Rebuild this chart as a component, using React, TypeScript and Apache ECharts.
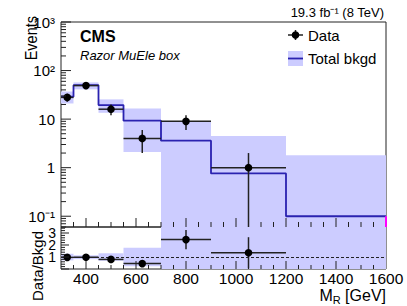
import React, { useEffect, useRef } from "react";
import * as echarts from "echarts";

// ---- data ----
const binEdges = [300, 350, 450, 550, 700, 900, 1200, 1600];
const dataCounts = [28, 49, 16, 4, 9, 1, 0];
const dataErrors = [5.3, 7, 4, 2, 3, 1, 0];
const bkgdTotal = [29, 50, 19.5, 9.3, 3.6, 0.76, 0.1];
const bkgdBandLow = [21, 41, 13.5, 2.1, 0.01, 0.01, 0.01];
const bkgdBandHigh = [37, 57, 25.5, 16.6, 9, 4.5, 1.8];
const ratioValues = [0.97, 0.98, 0.8, 0.45, 2.45, 1.35, 0];
const ratioErrors = [0.18, 0.14, 0.2, 0.22, 0.8, 1.3, 0];
const ratioBandLow = [0.72, 0.82, 0.69, 0.23, 0, 0, 0];
const ratioBandHigh = [1.27, 1.14, 1.31, 1.78, 4, 6, 18];

const yDecadeTicks = [0.1, 1, 10, 100, 1000];
const yDecadeLabels = ["10\u207B\u00B9", "1", "10", "10\u00B2", "10\u00B3"];
const yMinorMultipliers = [2, 3, 4, 5, 6, 7, 8, 9];
const xMajorTicks = [400, 600, 800, 1000, 1200, 1400];
const xMinorTicks = [350, 450, 500, 550, 650, 700, 750, 850, 900, 950, 1050, 1100, 1150, 1250, 1300, 1350, 1450, 1500, 1550];
const ratioMajorTicks = [0, 1, 2, 3];

const FONT = '"Liberation Sans", Arial, Helvetica, sans-serif';
const BAND = "#ccccff";
const LINE = "#2a22b0";
const INK = "#222";

const xMin = 300, xMax = 1600;
const yMin = 0.06, yMax = 1000;
const rMin = 0, rMax = 3.5;

const clamp = (v: number, lo: number, hi: number) => Math.max(lo, Math.min(hi, v));

function measure(text: string, font: string) {
  const c = document.createElement("canvas").getContext("2d")!;
  c.font = font;
  return c.measureText(text).width;
}

export default function App() {
  const ref = useRef<HTMLDivElement>(null);
  useEffect(() => {
    document.body.style.margin = "0";
    const chart = echarts.init(ref.current!, null, { renderer: "svg" });
    const nb = dataCounts.length;
    const idx = Array.from({ length: nb }, (_, i) => i);

    const stepPts: number[][] = [];
    idx.forEach((i) => {
      stepPts.push([binEdges[i], bkgdTotal[i]]);
      stepPts.push([binEdges[i + 1], bkgdTotal[i]]);
    });

    const yMinorTicks: number[] = [];
    [0.01, 0.1, 1, 10, 100].forEach((d) =>
      yMinorMultipliers.forEach((m) => {
        const v = d * m;
        if (v >= yMin && v <= yMax) yMinorTicks.push(v);
      })
    );
    const ratioMinorTicks: number[] = [];
    for (let k = 1; k <= 17; k++) if (k % 5 !== 0) ratioMinorTicks.push(k / 5);

    const tickLine = (x1: number, y1: number, x2: number, y2: number) => ({
      type: "line",
      shape: { x1, y1, x2, y2 },
      style: { stroke: INK, lineWidth: 1 },
    });

    const mkBand = (lo: number[], hi: number[], gi: number, mn: number, mx: number) => ({
      type: "custom",
      xAxisIndex: gi,
      yAxisIndex: gi,
      silent: true,
      z: 1,
      encode: { x: [0, 1], y: [3] },
      data: idx.map((i) => [binEdges[i], binEdges[i + 1], lo[i], hi[i]]),
      renderItem: (_p: any, api: any) => {
        const p0 = api.coord([api.value(0), clamp(api.value(3), mn, mx)]);
        const p1 = api.coord([api.value(1), clamp(api.value(2), mn, mx)]);
        return {
          type: "rect",
          shape: { x: p0[0], y: p0[1], width: p1[0] - p0[0], height: p1[1] - p0[1] },
          style: { fill: BAND },
        };
      },
    });

    const mkPoints = (vals: number[], errs: number[], gi: number, mn: number, mx: number) => ({
      type: "custom",
      xAxisIndex: gi,
      yAxisIndex: gi,
      silent: true,
      z: 5,
      encode: { x: [0], y: [3] },
      data: idx
        .filter((i) => dataCounts[i] > 0)
        .map((i) => [(binEdges[i] + binEdges[i + 1]) / 2, binEdges[i], binEdges[i + 1], vals[i], errs[i]]),
      renderItem: (_p: any, api: any) => {
        const xc = api.value(0), x0 = api.value(1), x1 = api.value(2), y = api.value(3), e = api.value(4);
        const pc = api.coord([xc, y]);
        const pl = api.coord([x0, y]);
        const pr = api.coord([x1, y]);
        const pt = api.coord([xc, clamp(y + e, mn, mx)]);
        const pb = api.coord([xc, clamp(y - e, mn, mx)]);
        return {
          type: "group",
          children: [
            { type: "line", shape: { x1: pl[0], y1: pl[1], x2: pr[0], y2: pr[1] }, style: { stroke: INK, lineWidth: 1.5 } },
            { type: "line", shape: { x1: pt[0], y1: pt[1], x2: pb[0], y2: pb[1] }, style: { stroke: INK, lineWidth: 1.5 } },
            { type: "circle", shape: { cx: pc[0], cy: pc[1], r: 3.8 }, style: { fill: "#000" } },
          ],
        };
      },
    });

    const mkXTicks = (vals: number[], len: number, gi: number, yv: number) => ({
      type: "custom",
      xAxisIndex: gi,
      yAxisIndex: gi,
      silent: true,
      z: 6,
      encode: { x: [0], y: [1] },
      data: vals.map((v) => [v, yv]),
      renderItem: (_p: any, api: any) => {
        const p = api.coord([api.value(0), api.value(1)]);
        return tickLine(p[0], p[1], p[0], p[1] - len);
      },
    });
    const mkYTicks = (vals: number[], len: number, gi: number) => ({
      type: "custom",
      xAxisIndex: gi,
      yAxisIndex: gi,
      silent: true,
      z: 6,
      encode: { x: [0], y: [1] },
      data: vals.map((v) => [xMin, v]),
      renderItem: (_p: any, api: any) => {
        const p = api.coord([api.value(0), api.value(1)]);
        return tickLine(p[0], p[1], p[0] + len, p[1]);
      },
    });

    // axis title M_R [GeV]
    const tFont = `16px ${FONT}`;
    const sFont = `11px ${FONT}`;
    const wM = measure("M", tFont);
    const wR = measure("R", sFont);
    const wG = measure(" [GeV]", tFont);
    const tEnd = 386;
    const tStart = tEnd - (wM + wR + wG);
    const tY = 295;

    chart.setOption({
      animation: false,
      grid: [
        { left: 61, top: 22, width: 325, height: 205, show: true, borderColor: INK, borderWidth: 1, backgroundColor: "transparent" },
        { left: 61, top: 227, width: 325, height: 42, show: true, borderColor: INK, borderWidth: 1, backgroundColor: "transparent" },
      ],
      xAxis: [
        {
          type: "value", gridIndex: 0, min: xMin, max: xMax,
          axisLine: { show: false }, axisTick: { show: false }, axisLabel: { show: false }, splitLine: { show: false },
        },
        {
          type: "value", gridIndex: 1, min: xMin, max: xMax, interval: 100,
          axisLine: { show: false }, axisTick: { show: false }, splitLine: { show: false },
          axisLabel: {
            show: true, margin: 2, color: "#000", fontFamily: FONT, fontSize: 15.5, lineHeight: 14,
            formatter: (v: number) => (v % 200 === 0 ? String(v) : ""),
          },
        },
      ],
      yAxis: [
        {
          type: "log", gridIndex: 0, min: yMin, max: yMax, logBase: 10,
          axisLine: { show: false }, axisTick: { show: false }, splitLine: { show: false },
          axisLabel: {
            margin: 6, color: "#000", fontFamily: FONT, fontSize: 15,
            formatter: (v: number) => {
              const k = yDecadeTicks.findIndex((t) => Math.abs(Math.log10(t) - Math.log10(v)) < 1e-6);
              return k >= 0 ? yDecadeLabels[k] : "";
            },
          },
        },
        {
          type: "value", gridIndex: 1, min: rMin, max: rMax, interval: 1,
          axisLine: { show: false }, axisTick: { show: false }, splitLine: { show: false },
          axisLabel: {
            margin: 5, color: "#000", fontFamily: FONT, fontSize: 14, lineHeight: 11,
            formatter: (v: number) => (Number.isInteger(v) ? String(v) : ""),
          },
        },
      ],
      series: [
        mkBand(bkgdBandLow, bkgdBandHigh, 0, yMin, yMax),
        {
          type: "line", xAxisIndex: 0, yAxisIndex: 0, data: stepPts, symbol: "none", silent: true, z: 3,
          lineStyle: { color: LINE, width: 1.8 },
        },
        {
          type: "line", xAxisIndex: 0, yAxisIndex: 0, silent: true, z: 4, symbol: "none",
          data: [[binEdges[nb], bkgdTotal[nb - 1]], [binEdges[nb], yMin]],
          lineStyle: { color: "#ff00ff", width: 2 },
        },
        mkPoints(dataCounts, dataErrors, 0, yMin, yMax),
        mkBand(ratioBandLow, ratioBandHigh, 1, rMin, rMax),
        {
          type: "line", xAxisIndex: 1, yAxisIndex: 1, data: [], silent: true,
          markLine: {
            silent: true, symbol: "none", label: { show: false },
            lineStyle: { color: INK, type: [3, 2], width: 1 },
            data: [{ yAxis: 1 }],
          },
        },
        mkPoints(ratioValues, ratioErrors, 1, rMin, rMax),
        mkYTicks(yDecadeTicks, 10, 0),
        mkYTicks(yMinorTicks, 5, 0),
        mkXTicks(xMajorTicks, 9, 0, yMin),
        mkXTicks(xMinorTicks, 5, 0, yMin),
        mkYTicks(ratioMajorTicks, 8, 1),
        mkYTicks(ratioMinorTicks, 4, 1),
        mkXTicks(xMajorTicks, 8, 1, rMin),
        mkXTicks(xMinorTicks, 4, 1, rMin),
      ],
      graphic: [
        { type: "text", x: 31, y: 16, rotation: Math.PI / 2, scaleY: 1.15, style: { text: "Events", font: `14.5px ${FONT}`, fill: "#000", align: "right", verticalAlign: "middle" } },
        { type: "text", x: 37, y: 231, rotation: Math.PI / 2, style: { text: "Data/Bkgd", font: `15px ${FONT}`, fill: "#000", align: "right", verticalAlign: "middle" } },
        { type: "text", x: 80, y: 36, style: { text: "CMS", font: `bold 16px ${FONT}`, fill: "#000", align: "left", verticalAlign: "middle" } },
        { type: "text", x: 80, y: 55, style: { text: "Razor MuEle box", font: `italic 13px ${FONT}`, fill: "#000", align: "left", verticalAlign: "middle" } },
        { type: "text", x: 384, y: 12, style: { text: "19.3 fb\u207B\u00B9 (8 TeV)", font: `13px ${FONT}`, fill: "#000", align: "right", verticalAlign: "middle" } },
        // legend
        { type: "line", shape: { x1: 288, y1: 35, x2: 303, y2: 35 }, style: { stroke: INK, lineWidth: 1.5 } },
        { type: "line", shape: { x1: 295.5, y1: 30, x2: 295.5, y2: 40 }, style: { stroke: INK, lineWidth: 1.5 } },
        { type: "circle", shape: { cx: 295.5, cy: 35, r: 3.8 }, style: { fill: "#000" } },
        { type: "text", x: 308, y: 35, style: { text: "Data", font: `15px ${FONT}`, fill: "#000", align: "left", verticalAlign: "middle" } },
        { type: "rect", shape: { x: 288, y: 51, width: 15, height: 15 }, style: { fill: BAND } },
        { type: "line", shape: { x1: 288, y1: 58.5, x2: 303, y2: 58.5 }, style: { stroke: LINE, lineWidth: 1.8 } },
        { type: "text", x: 308, y: 58.5, style: { text: "Total bkgd", font: `15px ${FONT}`, fill: "#000", align: "left", verticalAlign: "middle" } },
        // x-axis title
        { type: "text", x: tStart, y: tY, style: { text: "M", font: tFont, fill: "#000", align: "left", verticalAlign: "middle" } },
        { type: "text", x: tStart + wM, y: tY + 5, style: { text: "R", font: sFont, fill: "#000", align: "left", verticalAlign: "middle" } },
        { type: "text", x: tStart + wM + wR, y: tY, style: { text: " [GeV]", font: tFont, fill: "#000", align: "left", verticalAlign: "middle" } },
      ],
    });
    return () => chart.dispose();
  }, []);
  return <div ref={ref} style={{ width: 407, height: 306 }} />;
}
